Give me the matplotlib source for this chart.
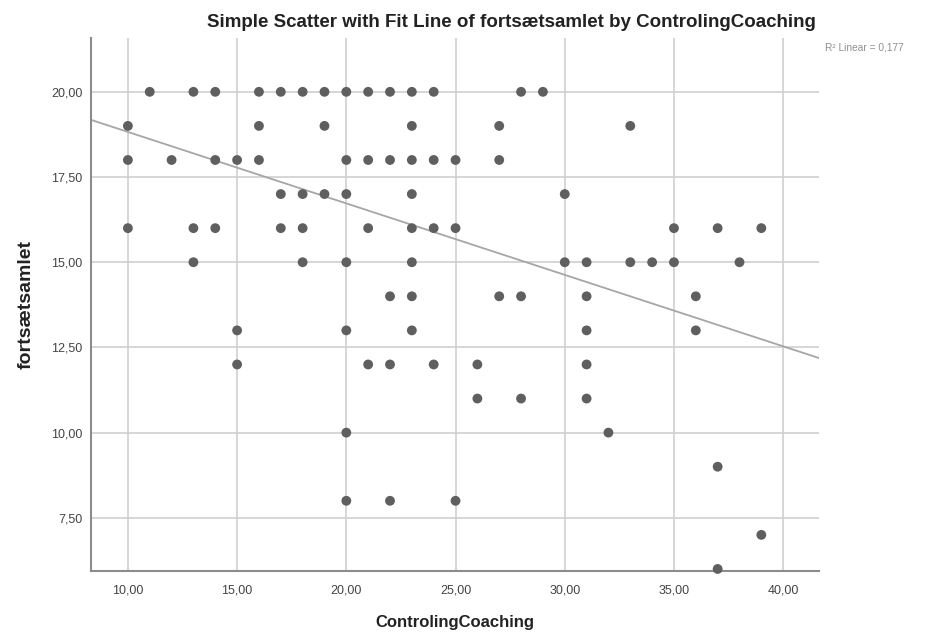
import matplotlib
matplotlib.use("Agg")
import matplotlib.pyplot as plt
from matplotlib.ticker import FuncFormatter, MultipleLocator
import numpy as np

# ── Datos (ControlingCoaching, fortsætsamlet) ─────────────────────
controling = [11, 13, 14, 16, 17, 18, 19, 20, 21, 22, 23, 24, 28, 29,   # y=20
              10, 16, 19, 23, 27, 33,                                   # y=19
              10, 12, 14, 15, 16, 20, 21, 22, 23, 24, 25, 27,           # y=18
              17, 18, 19, 20, 23, 30,                                   # y=17
              10, 13, 14, 17, 18, 21, 23, 24, 25, 35, 37, 39,           # y=16
              13, 18, 20, 23, 30, 31, 33, 34, 35, 38,                   # y=15
              22, 23, 27, 28, 31, 36,                                   # y=14
              15, 20, 23, 31, 36,                                       # y=13
              15, 21, 22, 24, 26, 31,                                   # y=12
              26, 28, 31,                                               # y=11
              20, 32,                                                   # y=10
              37,                                                       # y=9
              20, 22, 25,                                               # y=8
              39,                                                       # y=7
              37]                                                       # y=6
fortsaet = ([20] * 14 + [19] * 6 + [18] * 12 + [17] * 6 + [16] * 12 +
            [15] * 10 + [14] * 6 + [13] * 5 + [12] * 6 + [11] * 3 +
            [10] * 2 + [9] + [8] * 3 + [7] + [6])

# Ajuste lineal (SPSS lo calcula con casos repetidos
# que quedan ocultos bajo el mismo punto)
fit_intercept = 20.92
fit_slope = -0.2097
r2_text = "R² Linear = 0,177"

x = np.array(controling, dtype=float)
y = np.array(fortsaet, dtype=float)

# ── Paleta ────────────────────────────────────────────────────────
PUNTO = "#5f5f5f"
LINEA = "#a6a6a6"
GRID  = "#d0d0d0"
EJE   = "#8c8c8c"
TEXTO = "#222222"

plt.rcParams["font.family"] = ["Liberation Sans", "DejaVu Sans"]

fig = plt.figure(figsize=(9.36, 6.36), dpi=100, facecolor="white")
ax = fig.add_axes([0.0972, 0.1022, 0.7778, 0.8381])

xmin, xmax = 8.31, 41.64
ax.set_xlim(xmin, xmax)
ax.set_ylim(5.94, 21.58)

ax.xaxis.set_major_locator(MultipleLocator(5))
ax.yaxis.set_major_locator(MultipleLocator(2.5))
coma = FuncFormatter(lambda v, p: f"{v:.2f}".replace(".", ","))
ax.xaxis.set_major_formatter(coma)
ax.yaxis.set_major_formatter(coma)
ax.tick_params(length=0, labelsize=9, labelcolor="#444444")
ax.tick_params(axis="x", pad=10)
ax.tick_params(axis="y", pad=6)

ax.grid(True, color=GRID, linewidth=1.2)
ax.set_axisbelow(True)
for lado in ("top", "right"):
    ax.spines[lado].set_visible(False)
for lado in ("left", "bottom"):
    ax.spines[lado].set_color(EJE)
    ax.spines[lado].set_linewidth(1.5)

# Línea de ajuste
xs = np.array([xmin, xmax])
ax.plot(xs, fit_intercept + fit_slope * xs, color=LINEA, linewidth=1.3, zorder=2)

ax.scatter(x, y, s=50, color=PUNTO, edgecolors="none", zorder=3, clip_on=False)

fig.text(0.546, 0.964, "Simple Scatter with Fit Line of fortsætsamlet by ControlingCoaching",
         ha="center", va="center", fontsize=13.5, fontweight="bold", color=TEXTO)
fig.text(0.881, 0.925, r2_text, ha="left", va="center", fontsize=7.3, color="#909090")
ax.set_xlabel("ControlingCoaching", fontsize=12, fontweight="bold", color=TEXTO, labelpad=13)
ax.set_ylabel("fortsætsamlet", fontsize=14, fontweight="bold", color=TEXTO, labelpad=12)

fig.savefig("out.png", dpi=100, facecolor="white")
